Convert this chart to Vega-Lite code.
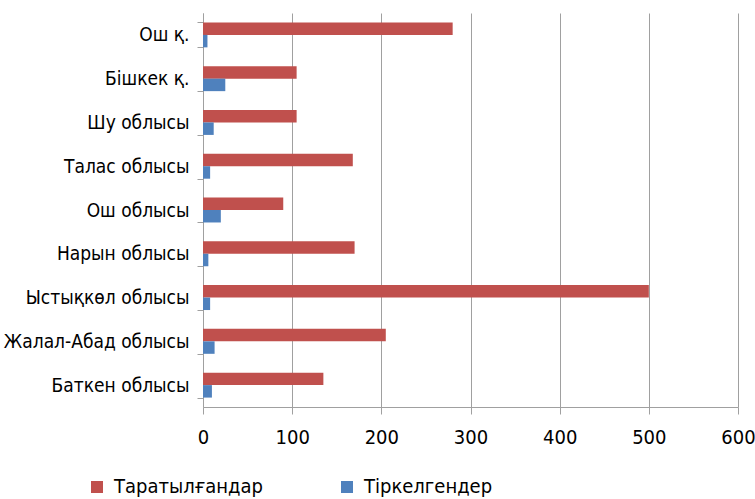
{
  "$schema": "https://vega.github.io/schema/vega-lite/v6.json",
  "autosize": "none",
  "width": 535,
  "height": 394,
  "padding": {"left": 203, "top": 13, "right": 17, "bottom": 92},
  "background": "white",
  "config": {
    "font": "DejaVu Sans Condensed",
    "view": {"stroke": null}
  },
  "data": {
    "values": [
      {"region": "Ош қ.", "series": "Таратылғандар", "value": 280},
      {"region": "Ош қ.", "series": "Тіркелгендер", "value": 5},
      {"region": "Бішкек қ.", "series": "Таратылғандар", "value": 105},
      {"region": "Бішкек қ.", "series": "Тіркелгендер", "value": 25},
      {"region": "Шу облысы", "series": "Таратылғандар", "value": 105},
      {"region": "Шу облысы", "series": "Тіркелгендер", "value": 12},
      {"region": "Талас облысы", "series": "Таратылғандар", "value": 168},
      {"region": "Талас облысы", "series": "Тіркелгендер", "value": 8},
      {"region": "Ош облысы", "series": "Таратылғандар", "value": 90},
      {"region": "Ош облысы", "series": "Тіркелгендер", "value": 20},
      {"region": "Нарын облысы", "series": "Таратылғандар", "value": 170},
      {"region": "Нарын облысы", "series": "Тіркелгендер", "value": 6},
      {"region": "Ыстықкөл облысы", "series": "Таратылғандар", "value": 500},
      {"region": "Ыстықкөл облысы", "series": "Тіркелгендер", "value": 8},
      {"region": "Жалал-Абад облысы", "series": "Таратылғандар", "value": 205},
      {"region": "Жалал-Абад облысы", "series": "Тіркелгендер", "value": 13},
      {"region": "Баткен облысы", "series": "Таратылғандар", "value": 135},
      {"region": "Баткен облысы", "series": "Тіркелгендер", "value": 10}
    ]
  },
  "mark": {"type": "bar"},
  "encoding": {
    "y": {
      "field": "region",
      "type": "nominal",
      "sort": null,
      "scale": {"paddingInner": 0.43, "paddingOuter": 0.215},
      "axis": {
        "title": null,
        "tickBand": "extent",
        "tickSize": 6,
        "tickColor": "#a0a0a0",
        "domainColor": "#a0a0a0",
        "labelFontSize": 19,
        "labelColor": "#000000",
        "labelPadding": 8,
        "labelLimit": 300
      }
    },
    "yOffset": {
      "field": "series",
      "type": "nominal",
      "sort": ["Таратылғандар", "Тіркелгендер"],
      "scale": {"paddingInner": 0, "paddingOuter": 0}
    },
    "x": {
      "field": "value",
      "type": "quantitative",
      "scale": {"domain": [0, 600], "nice": false},
      "axis": {
        "title": null,
        "values": [0, 100, 200, 300, 400, 500, 600],
        "grid": true,
        "gridColor": "#a0a0a0",
        "gridWidth": 1,
        "tickSize": 7,
        "tickColor": "#a0a0a0",
        "domainColor": "#a0a0a0",
        "labelFontSize": 20,
        "labelColor": "#000000",
        "labelPadding": 13,
        "labelFlush": false
      }
    },
    "color": {
      "field": "series",
      "type": "nominal",
      "scale": {
        "domain": ["Таратылғандар", "Тіркелгендер"],
        "range": ["#C0504D", "#4F81BD"]
      },
      "legend": {
        "title": null,
        "orient": "none",
        "legendX": -116,
        "legendY": 464,
        "direction": "horizontal",
        "columns": 2,
        "columnPadding": 74,
        "symbolType": "square",
        "symbolSize": 144,
        "symbolStrokeWidth": 0,
        "labelOffset": 7,
        "labelFontSize": 20,
        "labelColor": "#000000",
        "labelLimit": 300,
        "padding": 0
      }
    }
  }
}
